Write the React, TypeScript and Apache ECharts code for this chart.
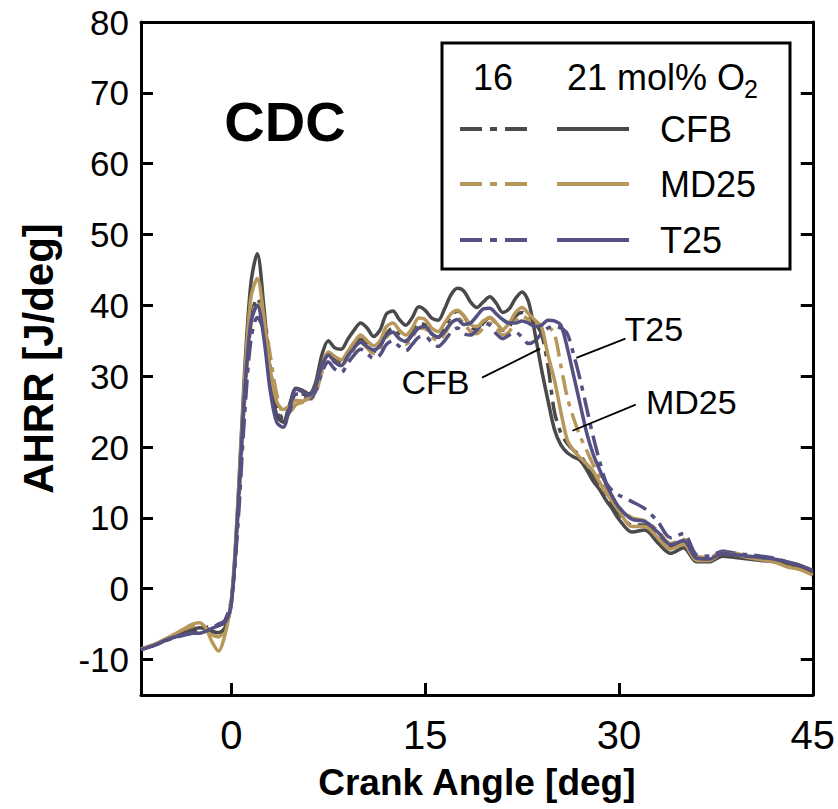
import React, { useEffect, useRef } from "react";
import * as echarts from "echarts";

const ANGLES = [
  -7, -6, -5, -4, -3,
  -2.5, -2, -1.5, -1, -0.5,
  0, 0.5, 1, 1.5, 2, 2.5, 3, 3.5, 4, 4.5,
  5, 5.5, 6, 6.5, 7, 7.5, 8, 8.5, 9, 9.5,
  10, 10.5, 11, 11.5, 12, 12.5, 13, 13.5, 14, 14.5,
  15, 15.5, 16, 16.5, 17, 17.5, 18, 18.5, 19, 19.5,
  20, 20.5, 21, 21.5, 22, 22.5, 23, 23.5, 24, 24.5,
  25, 25.5, 26, 26.5, 27, 27.5, 28, 28.5, 29, 29.5,
  30, 31, 32, 33, 34, 35, 36, 37, 38, 39,
  40, 41, 42, 43, 44, 45,
];

const CFB_21 = [
  -8.5, -8.0, -7.2, -6.5, -5.8,
  -5.5, -5.6, -6.0, -6.2, -5.5,
  -2.0, 12, 30, 43, 47.3, 40, 30, 24.5, 23.5, 26,
  28.3, 28, 27.5, 29, 33, 35, 34, 33.8, 35.2, 36.5,
  37.5, 36.8, 35.6, 36.5, 38.8, 39.2, 38, 37.2, 38.3, 39.8,
  39.3, 38.2, 37.9, 39.5, 41.5, 42.4, 42, 40.5, 39.7, 40.5,
  41.2, 40.3, 39, 39.5, 41, 41.9, 40.5, 36, 31, 26.6,
  22.5, 20.3, 19.2, 18.6, 18.1, 16.8, 15.2, 14, 12.5, 11.2,
  9.8, 8.0, 8.3, 6.5, 5.0, 5.8, 3.8, 3.8, 4.6, 4.4,
  4.2, 4.0, 3.8, 3.3, 2.9, 2.1,
];

const MD25_21 = [
  -8.5, -7.9, -7.0, -6.0, -5.0,
  -4.8, -5.5, -7.5, -8.8, -6.5,
  -1.5, 12, 29, 41, 43.8, 38.5, 31, 26.5, 25.3, 25.8,
  26.6, 26.5, 27, 28.5, 31.5, 33.4, 32.8, 32.3, 33.5, 34.8,
  35.8, 35, 34.3, 35, 37, 37.5, 36.5, 35.8, 36.8, 38.2,
  38, 36.8, 36.3, 37.5, 38.8, 39.3, 38.5, 37.3, 37, 37.8,
  38.3, 37.5, 36.6, 37.5, 39, 39.7, 38.8, 37.9, 37, 33,
  29.5, 25, 21, 19.5, 18.5, 17.6, 16.6, 15, 13.5, 12.3,
  11, 8.8, 8.8, 7.2, 5.6, 6.3, 4.0, 4.0, 5.0, 4.8,
  4.4, 4.1, 3.8, 3.1, 2.7, 1.9,
];

const T25_21 = [
  -8.6, -8.0, -7.2, -6.6, -6.2,
  -6.3, -6.0, -5.6, -5.2, -4.8,
  -2.0, 11, 27, 37.5, 40, 35.5, 28, 23.5, 22.8, 25.5,
  28.2, 27.8, 27.3, 28.5, 31.5, 33, 32, 31.5, 32.8, 34,
  34.8, 34.2, 33.7, 34.3, 35.8, 36.2, 35.3, 34.9, 35.8, 36.8,
  37, 36, 35.5, 36.3, 37.5, 38, 37.3, 37.5, 38.5, 39.5,
  39.6, 38.8, 38, 37.5, 37.5, 37.8, 37.5, 37, 37.2, 37.9,
  37.8, 37.2, 34, 30, 26, 22, 19, 16.8, 14.8, 13,
  11.5, 9.8, 9.5, 8, 6.2, 6.8, 4.3, 4.2, 5, 4.8,
  4.6, 4.4, 4.2, 3.8, 3.3, 2.6,
];

const CFB_16 = [
  -8.5, -8.0, -7.2, -6.5, -6.0,
  -5.8, -5.5, -5.3, -5.2, -4.5,
  -1.5, 10, 26, 38, 41, 38, 31, 26, 24, 25.5,
  27.5, 27.5, 27, 28, 31, 33, 32.5, 32, 33, 34.3,
  35.2, 34.5, 33.5, 34.2, 36, 36.8, 35.8, 35, 36, 37.5,
  37.2, 36, 35.5, 36.8, 38.5, 39.2, 38.5, 37, 36.5, 37.5,
  38.3, 37.5, 36.5, 37, 38.5, 39, 38.5, 37.5, 36, 31.5,
  25, 22, 20.5, 19.5, 18.8, 17.5, 16, 14.6, 13, 11.8,
  10.6, 9, 9, 7.5, 5.8, 6.5, 4.3, 4.1, 4.9, 4.7,
  4.4, 4.1, 3.9, 3.5, 3.0, 2.2,
];

const MD25_16 = [
  -8.5, -7.9, -7.0, -6.1, -5.3,
  -5.0, -5.5, -6.5, -6.8, -5.5,
  -1.5, 10, 26, 37, 40.5, 38.5, 33, 27.5, 25, 25,
  26, 26.3, 26.5, 27.5, 30.5, 32.5, 32, 31.5, 32.5, 33.8,
  34.8, 34, 33.2, 33.8, 35.5, 36.2, 35.3, 34.5, 35.5, 36.8,
  36.7, 35.6, 35, 36, 37.5, 38.2, 37.5, 36.3, 36, 36.8,
  37.5, 36.8, 35.8, 36.3, 37.8, 38.5, 38, 37.5, 37.2, 37,
  36, 31.5, 27, 24, 21.5, 19.5, 17.5, 15.8, 14.2, 12.8,
  11.5, 10, 9.6, 8.2, 6.4, 7.0, 4.6, 4.4, 5.3, 5.0,
  4.6, 4.3, 4.0, 3.4, 2.9, 2.1,
];

const T25_16 = [
  -8.6, -8.0, -7.3, -6.7, -6.3,
  -6.2, -5.8, -5.5, -5.0, -4.5,
  -1.5, 9, 24, 35, 38.3, 36.5, 31, 25.5, 23.5, 25,
  27.5, 27.3, 26.8, 27.8, 30.5, 32, 31, 30.5, 31.8, 33,
  33.8, 33.2, 32.5, 33, 34.5, 35, 34.2, 33.6, 34.5, 35.5,
  35.6, 34.8, 34.2, 35, 36.2, 36.8, 36, 35.8, 36.5, 37.5,
  37.2, 36, 35.3, 35.8, 36.2, 35.5, 34.6, 35, 36, 36.8,
  37, 36.8, 36, 33, 29.5, 25.5, 21.5, 18, 15, 13.8,
  13.2, 12.3, 11.3, 9.5, 7.2, 7.8, 4.8, 4.6, 5.3, 5.0,
  4.8, 4.6, 4.3, 3.8, 3.3, 2.5,
];

const X_TICKS = [0, 15, 30, 45];
const Y_TICKS = [-10, 0, 10, 20, 30, 40, 50, 60, 70, 80];

const FUELS = ["CFB", "MD25", "T25"];
const COLORS: Record<string, string> = { CFB: "#4a4a4a", MD25: "#b8975a", T25: "#545083" };

// annotation labels: [text, labelX, labelY, lineFromX, lineFromY, lineToX, lineToY]
const ANNOTATIONS: [string, number, number, number, number, number, number][] = [
  ["CFB", 15.8, 29.2, 19.4, 29.8, 23.9, 33.9],
  ["T25", 32.7, 36.6, 26.7, 32.6, 30.5, 35.3],
  ["MD25", 35.6, 26.3, 26.4, 22.3, 31.3, 26.0],
];

const FONT = "'Liberation Sans', Arial, Helvetica, sans-serif";
const DASHDOT = [20, 7, 5, 7];

export default function App() {
  const ref = useRef<HTMLDivElement>(null);

  useEffect(() => {
    const chart = echarts.init(ref.current!, null, { renderer: "svg" });

    const mk = (name: string, ys: number[], color: string, dashed: boolean) => ({
      name,
      type: "line",
      data: ANGLES.map((a, i) => [a, ys[i]]),
      showSymbol: false,
      smooth: 0.3,
      z: dashed ? 2 : 3,
      lineStyle: { color, width: 3.5, type: dashed ? DASHDOT : "solid" },
      itemStyle: { color },
    });

    const axisLine = { show: true, onZero: false, lineStyle: { color: "#000", width: 3 } };

    chart.setOption({
      animation: false,
      backgroundColor: "#fff",
      grid: { left: 141, right: 23, top: 22, bottom: 114 },
      xAxis: [
        {
          type: "value",
          min: -7,
          max: 45,
          position: "bottom",
          axisLine,
          splitLine: { show: false },
          axisTick: { inside: true, length: 12, lineStyle: { color: "#000", width: 3 }, customValues: X_TICKS },
          axisLabel: { customValues: X_TICKS, fontSize: 40, color: "#000", fontFamily: FONT, margin: 20 },
          name: "Crank Angle [deg]",
          nameLocation: "middle",
          nameGap: 69,
          nameTextStyle: { fontSize: 37, fontWeight: "bold", color: "#000", fontFamily: FONT },
        },
        {
          type: "value",
          min: -7,
          max: 45,
          position: "top",
          axisLine,
          splitLine: { show: false },
          axisTick: { show: false },
          axisLabel: { show: false },
        },
      ],
      yAxis: [
        {
          type: "value",
          min: -15,
          max: 80,
          position: "left",
          axisLine,
          splitLine: { show: false },
          axisTick: { inside: true, length: 12, lineStyle: { color: "#000", width: 3 }, customValues: Y_TICKS },
          axisLabel: { customValues: Y_TICKS, fontSize: 35, color: "#000", fontFamily: FONT, margin: 12 },
          name: "AHRR [J/deg]",
          nameLocation: "middle",
          nameGap: 82,
          nameTextStyle: { fontSize: 42, fontWeight: "bold", color: "#000", fontFamily: FONT },
        },
        {
          type: "value",
          min: -15,
          max: 80,
          position: "right",
          axisLine,
          splitLine: { show: false },
          axisTick: { inside: true, length: 12, lineStyle: { color: "#000", width: 3 }, customValues: Y_TICKS },
          axisLabel: { show: false },
        },
      ],
      series: [
        mk("CFB 16", CFB_16, COLORS.CFB, true),
        mk("MD25 16", MD25_16, COLORS.MD25, true),
        mk("T25 16", T25_16, COLORS.T25, true),
        mk("CFB 21", CFB_21, COLORS.CFB, false),
        mk("MD25 21", MD25_21, COLORS.MD25, false),
        mk("T25 21", T25_21, COLORS.T25, false),
      ],
    });

    const px = (x: number, y: number) =>
      chart.convertToPixel({ xAxisIndex: 0, yAxisIndex: 0 }, [x, y]) as number[];

    const graphics: any[] = [];
    ANNOTATIONS.forEach(([t, lx, ly, x1, y1, x2, y2]) => {
      const p = px(lx, ly);
      const a = px(x1, y1);
      const b = px(x2, y2);
      graphics.push({
        type: "line",
        z: 10,
        shape: { x1: a[0], y1: a[1], x2: b[0], y2: b[1] },
        style: { stroke: "#000", lineWidth: 1.8 },
      });
      graphics.push({
        type: "text",
        z: 10,
        x: p[0],
        y: p[1],
        style: { text: t, fontSize: 34, fontFamily: FONT, fill: "#000", align: "center", verticalAlign: "middle" },
      });
    });

    // CDC tag
    graphics.push({
      type: "text",
      z: 10,
      x: 285,
      y: 121,
      style: {
        text: "CDC",
        fontSize: 56,
        fontWeight: "bold",
        fontFamily: FONT,
        fill: "#000",
        align: "center",
        verticalAlign: "middle",
      },
    });

    // legend box
    graphics.push({
      type: "rect",
      z: 20,
      shape: { x: 442, y: 43, width: 348, height: 226 },
      style: { fill: "#fff", stroke: "#000", lineWidth: 3 },
    });
    graphics.push({
      type: "text",
      z: 21,
      x: 493,
      y: 77,
      style: { text: "16", fontSize: 36, fontFamily: FONT, fill: "#000", align: "center", verticalAlign: "middle" },
    });
    graphics.push({
      type: "text",
      z: 21,
      x: 567,
      y: 77,
      style: { text: "21 mol% O", fontSize: 36, fontFamily: FONT, fill: "#000", align: "left", verticalAlign: "middle" },
    });
    graphics.push({
      type: "text",
      z: 21,
      x: 744,
      y: 89,
      style: { text: "2", fontSize: 25, fontFamily: FONT, fill: "#000", align: "left", verticalAlign: "middle" },
    });
    const rowY = [129, 184, 240];
    FUELS.forEach((f, i) => {
      const y = rowY[i];
      graphics.push({
        type: "line",
        z: 21,
        shape: { x1: 460, y1: y, x2: 527, y2: y },
        style: { stroke: COLORS[f], lineWidth: 4, lineDash: [22, 8, 7, 8] },
      });
      graphics.push({
        type: "line",
        z: 21,
        shape: { x1: 557, y1: y, x2: 629, y2: y },
        style: { stroke: COLORS[f], lineWidth: 4 },
      });
      graphics.push({
        type: "text",
        z: 21,
        x: 660,
        y,
        style: { text: f, fontSize: 36, fontFamily: FONT, fill: "#000", align: "left", verticalAlign: "middle" },
      });
    });

    chart.setOption({ graphic: graphics });

    return () => chart.dispose();
  }, []);

  return <div ref={ref} style={{ width: 838, height: 809, position: "absolute", left: 0, top: 0 }} />;
}
